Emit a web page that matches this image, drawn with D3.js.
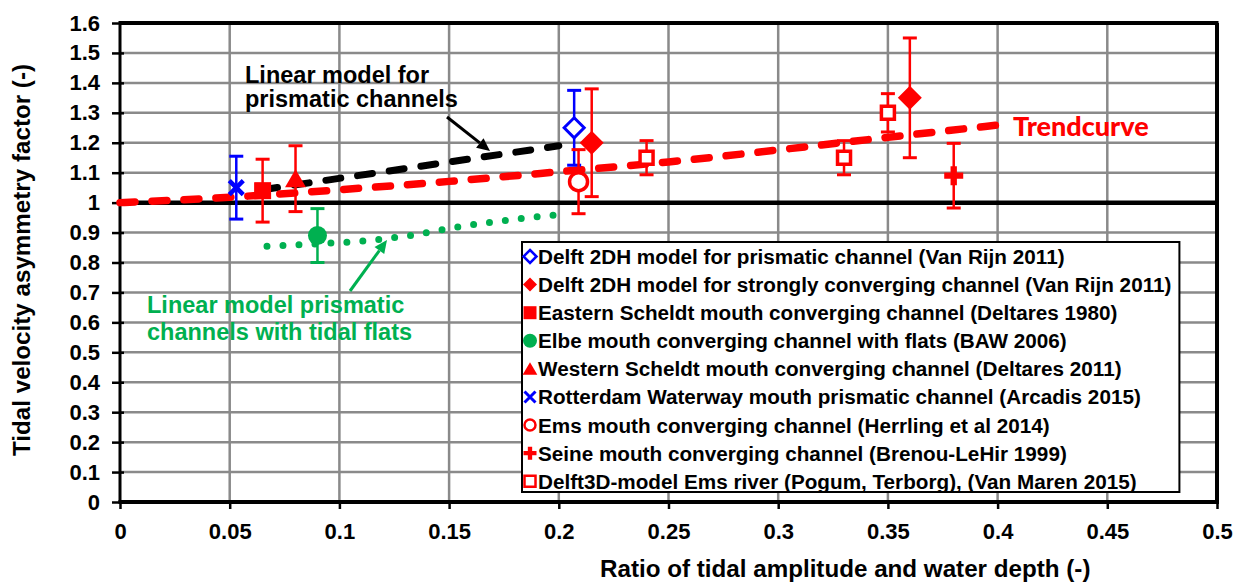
<!DOCTYPE html>
<html>
<head>
<meta charset="utf-8">
<script src="https://cdn.jsdelivr.net/npm/d3@7"></script>
<style>
  body { margin: 0; background: #fff; }
  svg text { font-family: "Liberation Sans", Arial, sans-serif; font-weight: bold; }
</style>
</head>
<body>
<svg id="chart" width="1240" height="584"></svg>
<script>
// ---- data ----
const xTickValues = [0, 0.05, 0.1, 0.15, 0.2, 0.25, 0.3, 0.35, 0.4, 0.45, 0.5];
const xTickLabels = ["0", "0.05", "0.1", "0.15", "0.2", "0.25", "0.3", "0.35", "0.4", "0.45", "0.5"];
const yTickValues = [0, 0.1, 0.2, 0.3, 0.4, 0.5, 0.6, 0.7, 0.8, 0.9, 1, 1.1, 1.2, 1.3, 1.4, 1.5, 1.6];
const yTickLabels = ["0", "0.1", "0.2", "0.3", "0.4", "0.5", "0.6", "0.7", "0.8", "0.9", "1", "1.1", "1.2", "1.3", "1.4", "1.5", "1.6"];

const xTitle = "Ratio of tidal amplitude and water depth  (-)";
const yTitle = "Tidal velocity asymmetry factor (-)";

// observations: [ratio, asymmetry factor, error half-width]
const delftPrismatic   = [[0.207, 1.25, 0.125]];
const delftConverging  = [[0.215, 1.20, 0.18], [0.36, 1.35, 0.20]];
const easternScheldt   = [[0.065, 1.04, 0.105]];
const elbe             = [[0.09, 0.89, 0.09]];
const westernScheldt   = [[0.08, 1.08, 0.11]];
const rotterdam        = [[0.053, 1.05, 0.105]];
const emsMouth         = [[0.209, 1.07, 0.107]];
const seine            = [[0.38, 1.09, 0.108]];
const delft3dEms       = [[0.24, 1.15, 0.057], [0.33, 1.15, 0.057], [0.35, 1.30, 0.064]];

const seriesNames = [
  "Delft 2DH model for prismatic channel (Van Rijn 2011)",
  "Delft 2DH model for strongly converging channel (Van Rijn 2011)",
  "Eastern Scheldt mouth converging channel (Deltares 1980)",
  "Elbe mouth converging channel with flats (BAW 2006)",
  "Western Scheldt mouth converging channel (Deltares 2011)",
  "Rotterdam Waterway mouth prismatic channel (Arcadis 2015)",
  "Ems mouth converging channel (Herrling et al 2014)",
  "Seine mouth converging channel (Brenou-LeHir 1999)",
  "Delft3D-model Ems river (Pogum, Terborg), (Van Maren 2015)"
];

// model curves
const trendX = [0, 0.05, 0.1, 0.15, 0.2, 0.25, 0.3, 0.35, 0.4];
const trendY = [1.0, 1.018, 1.043, 1.071, 1.103, 1.136, 1.176, 1.218, 1.259];
const prismaticX = [0.065, 0.2];
const prismaticY = [1.043, 1.19];
const flatsX = [0.067, 0.089, 0.111, 0.133, 0.155, 0.176, 0.199];
const flatsY = [0.854, 0.862, 0.872, 0.891, 0.92, 0.941, 0.959];
const referenceLevel = 1;

// ---- layout ----
const RED = "#ff0000", BLUE = "#0000ff", GREEN = "#00b050", GRID = "#8a8a8a";
const plot = { left: 120, right: 1217, top: 23, bottom: 502 };

const svg = d3.select("#chart");
const x = d3.scaleLinear().domain([0, 0.5]).range([plot.left, plot.right]);
const y = d3.scaleLinear().domain([0, 1.6]).range([plot.bottom, plot.top]);

// marker path builders (centred on 0,0)
const shapes = {
  diamond: r => `M0,${-r}L${r},0L0,${r}L${-r},0Z`,
  square: r => `M${-r},${-r}H${r}V${r}H${-r}Z`,
  circle: r => `M${r},0A${r},${r} 0 1,1 ${-r},0A${r},${r} 0 1,1 ${r},0Z`,
  triangle: r => `M0,${-r * 0.95}L${r * 1.05},${r * 0.85}L${-r * 1.05},${r * 0.85}Z`,
  xmark: r => `M${-r},${-r}L${r},${r}M${r},${-r}L${-r},${r}`,
  plus: r => { const t = r / 3; return `M${-t},${-r}H${t}V${-t}H${r}V${t}H${t}V${r}H${-t}V${t}H${-r}V${-t}H${-t}Z`; }
};

const series = [
  { data: delftPrismatic,  color: BLUE,  shape: "diamond",  open: true,  r: 10,  lr: 6.5, sw: 3 },
  { data: delftConverging, color: RED,   shape: "diamond",  open: false, r: 12,  lr: 7 },
  { data: easternScheldt,  color: RED,   shape: "square",   open: false, r: 8.5, lr: 6.5 },
  { data: elbe,            color: GREEN, shape: "circle",   open: false, r: 9.5, lr: 7 },
  { data: westernScheldt,  color: RED,   shape: "triangle", open: false, r: 10,  lr: 7 },
  { data: rotterdam,       color: BLUE,  shape: "xmark",    open: false, r: 7,   lr: 5.5, sw: 4.5 },
  { data: emsMouth,        color: RED,   shape: "circle",   open: true,  r: 9,   lr: 5.5, sw: 3.5 },
  { data: seine,           color: RED,   shape: "plus",     open: false, r: 9.5, lr: 6.5 },
  { data: delft3dEms,      color: RED,   shape: "square",   open: true,  r: 6.5, lr: 5.5, sw: 3.5 }
];

function drawMarker(g, s, r, sw) {
  const p = g.append("path").attr("d", shapes[s.shape](r));
  if (s.shape === "xmark") {
    p.attr("fill", "none").attr("stroke", s.color).attr("stroke-width", sw);
  } else if (s.open) {
    p.attr("fill", "#fff").attr("stroke", s.color).attr("stroke-width", sw);
  } else {
    p.attr("fill", s.color);
  }
}

// ---- gridlines ----
const grid = svg.append("g");
grid.selectAll("line.v").data(xTickValues.slice(1, -1)).join("line")
  .attr("x1", d => x(d)).attr("x2", d => x(d))
  .attr("y1", plot.top).attr("y2", plot.bottom)
  .attr("stroke", GRID).attr("stroke-width", 2.5);
grid.selectAll("line.h").data(yTickValues.slice(1, -1)).join("line")
  .attr("x1", plot.left).attr("x2", plot.right)
  .attr("y1", d => y(d)).attr("y2", d => y(d))
  .attr("stroke", GRID).attr("stroke-width", 2.5);

// ---- axes ----
const xAxis = d3.axisBottom(x).tickValues(xTickValues)
  .tickFormat((d, i) => xTickLabels[i]).tickSize(7).tickPadding(14);
const yAxis = d3.axisLeft(y).tickValues(yTickValues)
  .tickFormat((d, i) => yTickLabels[i]).tickSize(7).tickPadding(13);

const gx = svg.append("g").attr("transform", `translate(0,${plot.bottom})`).call(xAxis);
const gy = svg.append("g").attr("transform", `translate(${plot.left},0)`).call(yAxis);
[gx, gy].forEach(g => {
  g.select(".domain").remove();
  g.selectAll(".tick line").attr("stroke", "#000").attr("stroke-width", 2.5);
  g.selectAll(".tick text").attr("fill", "#000").attr("font-size", 22)
    .style("font-family", "'Liberation Sans', Arial, sans-serif").style("font-weight", "bold");
});
gy.selectAll(".tick line").attr("x2", -8).attr("x1", 4);

// frame: top and right borders, plus both axis lines
svg.append("line").attr("x1", plot.left).attr("x2", plot.right + 1.5)
  .attr("y1", plot.top).attr("y2", plot.top).attr("stroke", "#000").attr("stroke-width", 4);
svg.append("line").attr("x1", plot.right).attr("x2", plot.right)
  .attr("y1", plot.top).attr("y2", plot.bottom).attr("stroke", "#000").attr("stroke-width", 4);
svg.append("line").attr("x1", plot.left).attr("x2", plot.left)
  .attr("y1", plot.top - 2).attr("y2", plot.bottom).attr("stroke", "#000").attr("stroke-width", 3);
svg.append("line").attr("x1", plot.left - 1.5).attr("x2", plot.right + 2)
  .attr("y1", plot.bottom).attr("y2", plot.bottom).attr("stroke", "#000").attr("stroke-width", 4);

// reference level at 1
svg.append("line").attr("x1", x(0)).attr("x2", x(0.5))
  .attr("y1", y(referenceLevel)).attr("y2", y(referenceLevel))
  .attr("stroke", "#000").attr("stroke-width", 4.5);

// ---- model curves ----
const line = d3.line().x(d => x(d[0])).y(d => y(d[1]));
svg.append("path").datum(prismaticX.map((v, i) => [v, prismaticY[i]]))
  .attr("d", line).attr("fill", "none").attr("stroke", "#000")
  .attr("stroke-width", 7).attr("stroke-linecap", "round").attr("stroke-dasharray", "15,17");
svg.append("path").datum(trendX.map((v, i) => [v, trendY[i]]))
  .attr("d", line.curve(d3.curveMonotoneX)).attr("fill", "none").attr("stroke", RED)
  .attr("stroke-width", 7.5).attr("stroke-linecap", "round").attr("stroke-dasharray", "15,17");
svg.append("path").datum(flatsX.map((v, i) => [v, flatsY[i]]))
  .attr("d", d3.line().x(d => x(d[0])).y(d => y(d[1])).curve(d3.curveMonotoneX))
  .attr("fill", "none").attr("stroke", GREEN)
  .attr("stroke-width", 7).attr("stroke-linecap", "round").attr("stroke-dasharray", "0,16");

// ---- observations with error bars ----
series.forEach(s => {
  const g = svg.append("g");
  s.data.forEach(([vx, vy, e]) => {
    const cx = x(vx);
    const eb = g.append("g").attr("stroke", s.color);
    eb.append("line").attr("x1", cx).attr("x2", cx).attr("y1", y(vy + e)).attr("y2", y(vy - e)).attr("stroke-width", 2.5);
    [vy + e, vy - e].forEach(v => eb.append("line")
      .attr("x1", cx - 7).attr("x2", cx + 7).attr("y1", y(v)).attr("y2", y(v)).attr("stroke-width", 3));
  });
  s.data.forEach(([vx, vy]) => {
    const mg = g.append("g").attr("transform", `translate(${x(vx)},${y(vy)})`);
    drawMarker(mg, s, s.r, s.sw || 3);
  });
});

// ---- legend ----
const legend = svg.append("g");
const legBox = legend.append("rect").attr("x", 522).attr("y", 242).attr("height", 250)
  .attr("fill", "#fff").attr("stroke", "#000").attr("stroke-width", 2);
let maxW = 0;
series.forEach((s, i) => {
  const cy = 256.5 + i * 28.1;
  const mg = legend.append("g").attr("transform", `translate(530,${cy})`);
  drawMarker(mg, s, s.lr, s.shape === "xmark" ? 3 : 2.5);
  const t = legend.append("text").attr("x", 538).attr("y", cy).attr("dy", "0.36em")
    .attr("font-size", 20.7).attr("fill", "#000").text(seriesNames[i]);
  maxW = Math.max(maxW, t.node().getComputedTextLength());
});
legBox.attr("width", 538 + maxW + 8 - 522);

// ---- annotations ----
function arrow(x1, y1, x2, y2, color) {
  const ang = Math.atan2(y2 - y1, x2 - x1), L = 13, W = 6;
  const bx = x2 - L * Math.cos(ang), by = y2 - L * Math.sin(ang);
  svg.append("line").attr("x1", x1).attr("y1", y1).attr("x2", bx).attr("y2", by)
    .attr("stroke", color).attr("stroke-width", 3);
  svg.append("path").attr("fill", color).attr("d",
    `M${x2},${y2}L${bx - W * Math.sin(ang)},${by + W * Math.cos(ang)}L${bx + W * Math.sin(ang)},${by - W * Math.cos(ang)}Z`);
}

const blackNote = svg.append("text").attr("font-size", 23.5).attr("fill", "#000");
blackNote.append("tspan").attr("x", 245).attr("y", 83).text("Linear model for");
blackNote.append("tspan").attr("x", 245).attr("y", 107).text("prismatic channels");
arrow(447, 117, 490, 151, "#000");

const greenNote = svg.append("text").attr("font-size", 23.5).attr("fill", GREEN);
greenNote.append("tspan").attr("x", 147).attr("y", 313).text("Linear model prismatic");
greenNote.append("tspan").attr("x", 147).attr("y", 340).text("channels with tidal flats");
arrow(350, 291, 387, 240, GREEN);

svg.append("text").attr("x", 1013).attr("y", 136).attr("fill", RED)
  .attr("font-size", 27).style("font-family", "Lato, 'Open Sans', sans-serif")
  .style("font-weight", 900).text("Trendcurve");

// ---- axis titles ----
svg.append("text").attr("x", 600).attr("y", 577).attr("font-size", 24.2).attr("fill", "#000").text(xTitle);
svg.append("text").attr("transform", "translate(30,260) rotate(-90)").attr("text-anchor", "middle")
  .attr("font-size", 24.2).attr("fill", "#000").text(yTitle);
</script>
</body>
</html>
